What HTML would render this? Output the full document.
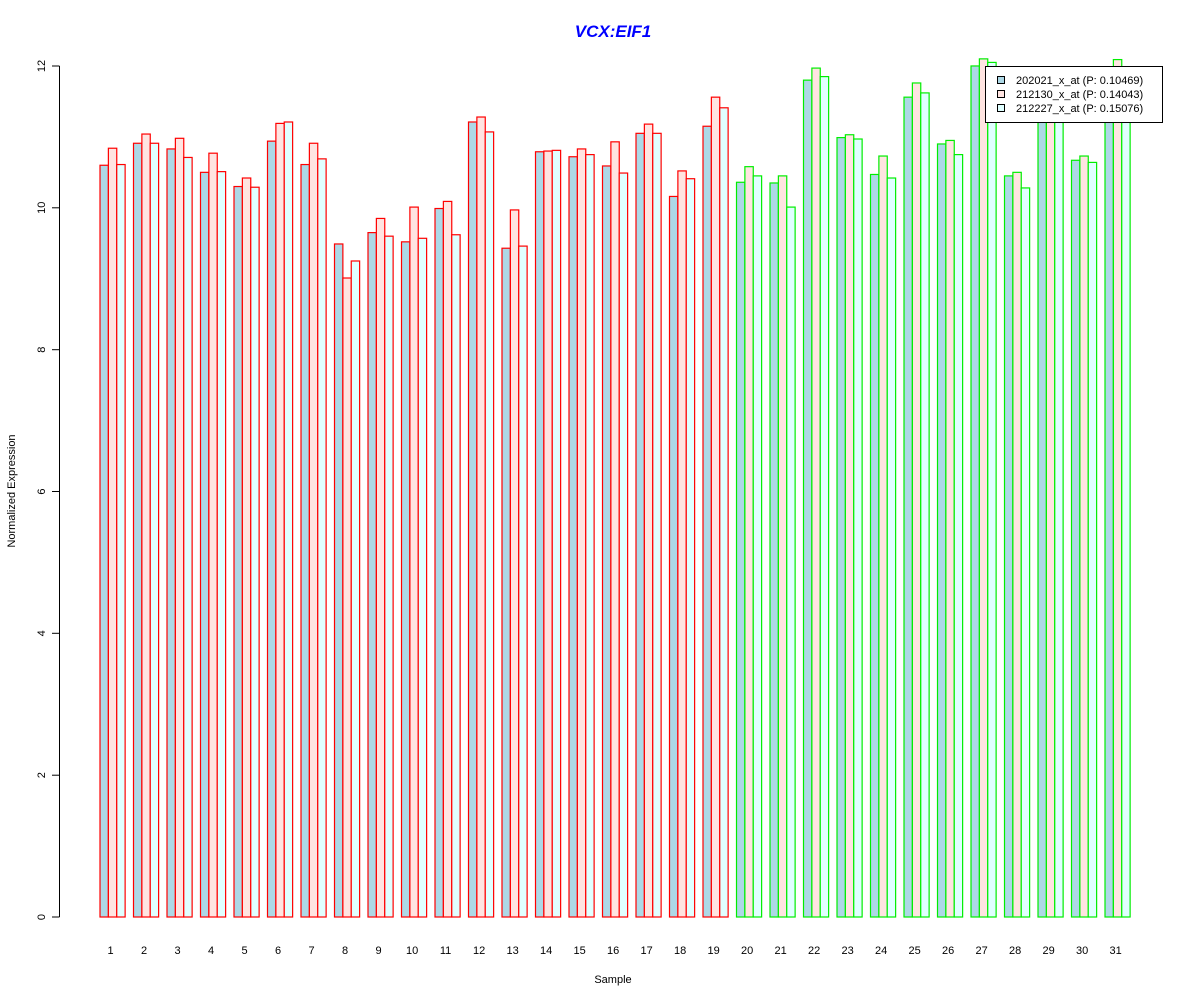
<!DOCTYPE html>
<html><head><meta charset="utf-8"><style>body{margin:0;background:#fff}svg{display:block}text{font-family:"Liberation Sans",Arial,sans-serif}</style></head>
<body>
<svg id="s" width="1200" height="1000" xmlns="http://www.w3.org/2000/svg">
<rect width="1200" height="1000" fill="#fff"/>
<g id="bars"></g>
<text x="613" y="37" text-anchor="middle" font-size="17" font-weight="bold" font-style="italic" fill="#0000ff">VCX:EIF1</text>
<g stroke="#000" stroke-width="1">
<line x1="59.5" y1="66" x2="59.5" y2="917"/>
<line x1="52" y1="917" x2="59.5" y2="917"/><line x1="52" y1="775.2" x2="59.5" y2="775.2"/>
<line x1="52" y1="633.3" x2="59.5" y2="633.3"/><line x1="52" y1="491.5" x2="59.5" y2="491.5"/>
<line x1="52" y1="349.7" x2="59.5" y2="349.7"/><line x1="52" y1="207.8" x2="59.5" y2="207.8"/>
<line x1="52" y1="66" x2="59.5" y2="66"/>
</g>
<g font-size="11" text-anchor="middle" fill="#000">
<text transform="translate(45,917) rotate(-90)">0</text>
<text transform="translate(45,775.2) rotate(-90)">2</text>
<text transform="translate(45,633.3) rotate(-90)">4</text>
<text transform="translate(45,491.5) rotate(-90)">6</text>
<text transform="translate(45,349.7) rotate(-90)">8</text>
<text transform="translate(45,207.8) rotate(-90)">10</text>
<text transform="translate(45,66) rotate(-90)">12</text>
<text transform="translate(15,491) rotate(-90)">Normalized Expression</text>
<text x="613" y="983">Sample</text>
</g>
<g font-size="11" text-anchor="middle" fill="#000">
<text x="110.6" y="954">1</text><text x="144.1" y="954">2</text><text x="177.6" y="954">3</text><text x="211.1" y="954">4</text><text x="244.6" y="954">5</text><text x="278.1" y="954">6</text><text x="311.6" y="954">7</text><text x="345.1" y="954">8</text><text x="378.6" y="954">9</text><text x="412.1" y="954">10</text><text x="445.6" y="954">11</text><text x="479.1" y="954">12</text><text x="512.6" y="954">13</text><text x="546.1" y="954">14</text><text x="579.6" y="954">15</text><text x="613.1" y="954">16</text><text x="646.6" y="954">17</text><text x="680.1" y="954">18</text><text x="713.6" y="954">19</text><text x="747.1" y="954">20</text><text x="780.6" y="954">21</text><text x="814.1" y="954">22</text><text x="847.6" y="954">23</text><text x="881.1" y="954">24</text><text x="914.6" y="954">25</text><text x="948.1" y="954">26</text><text x="981.6" y="954">27</text><text x="1015.1" y="954">28</text><text x="1048.6" y="954">29</text><text x="1082.1" y="954">30</text><text x="1115.6" y="954">31</text>
</g>
<g>
<rect x="985.5" y="66.5" width="177" height="56" fill="#fff" stroke="#000"/>
<rect x="997.5" y="76.5" width="7" height="7" fill="#ADD8E6" stroke="#000"/>
<rect x="997.5" y="90.5" width="7" height="7" fill="#FFE4E1" stroke="#000"/>
<rect x="997.5" y="104.5" width="7" height="7" fill="#E0FFFF" stroke="#000"/>
<text x="1016" y="84" font-size="11">202021_x_at (P: 0.10469)</text>
<text x="1016" y="98" font-size="11">212130_x_at (P: 0.14043)</text>
<text x="1016" y="112" font-size="11">212227_x_at (P: 0.15076)</text>
</g>
</svg>
<script>
var d=[[10.60,10.84,10.61],[10.91,11.04,10.91],[10.83,10.98,10.71],[10.50,10.77,10.51],[10.30,10.42,10.29],[10.94,11.19,11.21],[10.61,10.91,10.69],[9.49,9.01,9.25],[9.65,9.85,9.60],[9.52,10.01,9.57],[9.99,10.09,9.62],[11.21,11.28,11.07],[9.43,9.97,9.46],[10.79,10.80,10.81],[10.72,10.83,10.75],[10.59,10.93,10.49],[11.05,11.18,11.05],[10.16,10.52,10.41],[11.15,11.56,11.41],[10.36,10.58,10.45],[10.35,10.45,10.01],[11.80,11.97,11.85],[10.99,11.03,10.97],[10.47,10.73,10.42],[11.56,11.76,11.62],[10.90,10.95,10.75],[12.00,12.10,12.05],[10.45,10.50,10.28],[11.6,11.8,11.5],[10.67,10.73,10.64],[11.6,12.09,11.4]];
var f=["#ADD8E6","#FFE4E1","#E0FFFF"],h="",u=70.92,w=8.375;
d.forEach(function(g,i){var c=i<19?"#ff0000":"#00ee00";g.forEach(function(v,j){var x=100+i*33.5+j*w,y=917-v*u;h+='<rect x="'+x.toFixed(2)+'" y="'+y.toFixed(2)+'" width="'+w+'" height="'+(v*u).toFixed(2)+'" fill="'+f[j]+'" stroke="'+c+'" stroke-width="1.2"/>';});});
document.getElementById("bars").innerHTML=h;
</script>
</body></html>
